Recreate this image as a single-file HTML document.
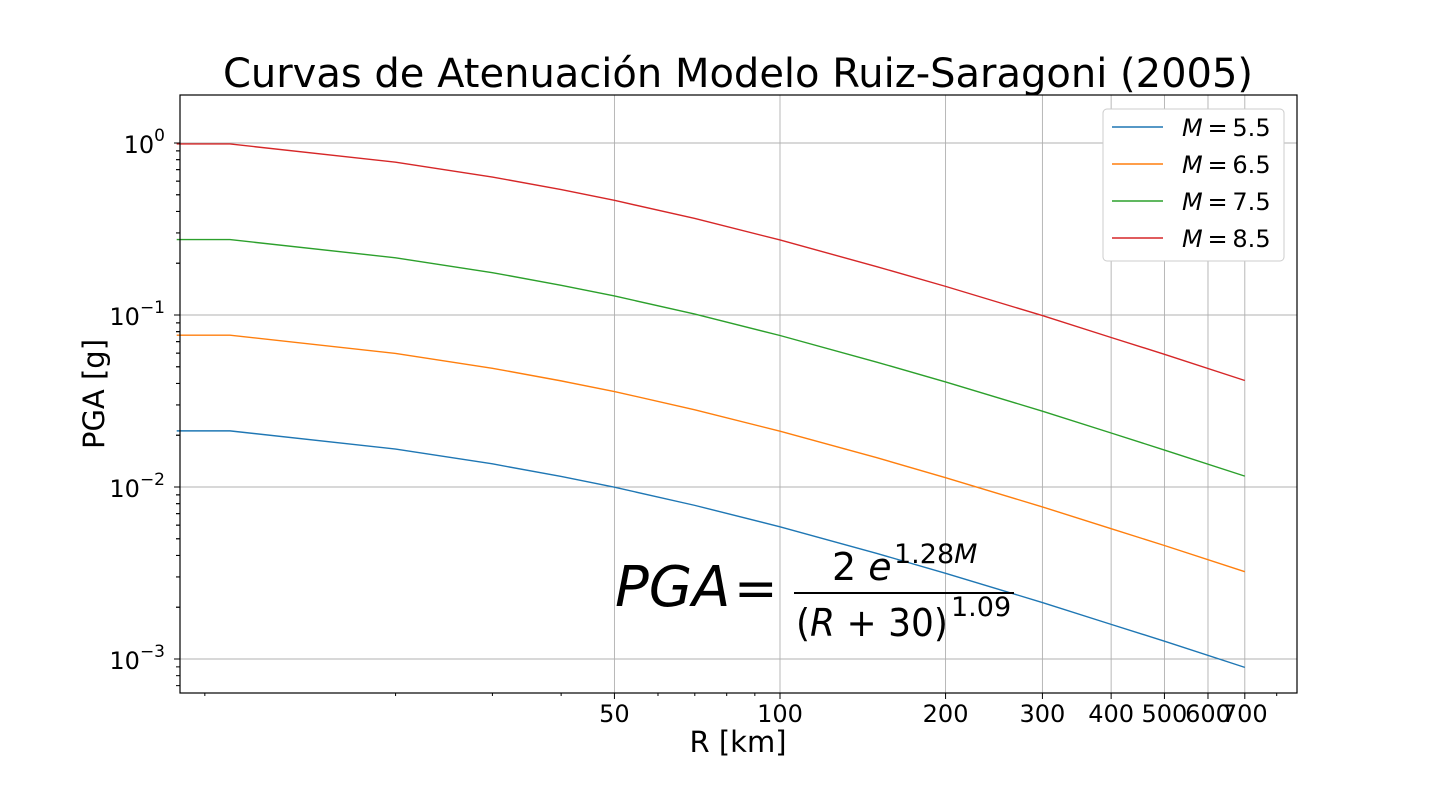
<!DOCTYPE html>
<html><head><meta charset="utf-8"><style>
body{margin:0;background:#fff;}
svg text{font-family:"DejaVu Sans","Liberation Sans",sans-serif;fill:#000;}
</style></head><body>
<svg id="chart" width="1440" height="792" xmlns="http://www.w3.org/2000/svg">
<text x="738" y="87" font-size="40" text-anchor="middle">Curvas de Atenuación Modelo Ruiz-Saragoni (2005)</text>
<g id="grid"></g>
<g id="series"></g>
<rect x="180" y="95" width="1117" height="598" fill="none" stroke="#000" stroke-width="1.2"/>
<g id="axes"></g>
<text x="738" y="752" font-size="29" text-anchor="middle">R [km]</text>
<text transform="translate(104,394) rotate(-90)" font-size="29" text-anchor="middle">PGA [g]</text>
<g>
<text x="615" y="606" font-size="56" font-style="italic">PGA</text>
<text x="734" y="606" font-size="52">=</text>
<text x="832" y="580" font-size="38">2 <tspan font-style="italic">e</tspan></text>
<text x="894" y="563" font-size="27">1.28<tspan font-style="italic">M</tspan></text>
<line x1="794" y1="593" x2="1014" y2="593" stroke="#000" stroke-width="2"/>
<text x="796" y="636" font-size="38" textLength="152" lengthAdjust="spacingAndGlyphs">(<tspan font-style="italic">R</tspan> + 30)</text>
<text x="951" y="616" font-size="27">1.09</text>
</g>
<g id="legend">
<rect x="1103" y="109" width="181" height="152" rx="4" fill="#fff" stroke="#ccc"/>
</g>
</svg>
<script>
const distances=[8,10,20,30,40,50,70,100,150,200,300,400,500,700];
const m55=[0.0212,0.0212,0.01662,0.01363,0.01151,0.00997,0.00782,0.00587,0.00411,0.00315,0.00213,0.00159,0.00127,0.000894];
const m65=[0.0763,0.0763,0.0598,0.0490,0.0414,0.0359,0.0281,0.0211,0.0148,0.01133,0.00766,0.00572,0.00457,0.00322];
const m75=[0.2744,0.2744,0.2151,0.1763,0.1489,0.1290,0.1012,0.0760,0.0532,0.0408,0.0276,0.0206,0.0164,0.01157];
const m85=[0.987,0.987,0.774,0.634,0.536,0.464,0.364,0.273,0.191,0.1467,0.0992,0.0740,0.0591,0.0416];
const seriesLabels=["M = 5.5","M = 6.5","M = 7.5","M = 8.5"];
const xTickLabels=[50,100,200,300,400,500,600,700];
const xMinor=[9,20,30,40,60,70,80,90,800];
const yTickExps=[0,-1,-2,-3];
const NS="http://www.w3.org/2000/svg";
const xs=v=>780+550*(Math.log10(v)-2);
const ys=v=>143-172*Math.log10(v);
function mk(t,a,p){const e=document.createElementNS(NS,t);for(const k in a)e.setAttribute(k,a[k]);p.appendChild(e);return e;}
const grid=document.getElementById('grid'),axes=document.getElementById('axes'),ser=document.getElementById('series'),leg=document.getElementById('legend');
xTickLabels.forEach(v=>{const x=xs(v);
 const g=mk('line',{x1:x,x2:x,y1:95,y2:693,stroke:'#b0b0b0','stroke-width':0.9},grid);
 
 
 mk('line',{x1:x,x2:x,y1:693,y2:699,stroke:'#000'},axes);
 const t=mk('text',{x:x,y:722,'font-size':24,'text-anchor':'middle'},axes);t.textContent=v;
 
 });
xMinor.forEach(v=>{const x=xs(v);mk('line',{x1:x,x2:x,y1:693,y2:696,stroke:'#000'},axes);});
yTickExps.forEach(e=>{const y=ys(Math.pow(10,e));
 const g=mk('line',{x1:180,x2:1297,y1:y,y2:y,stroke:'#b0b0b0','stroke-width':0.9},grid);
 
 
 mk('line',{x1:174,x2:180,y1:y,y2:y,stroke:'#000'},axes);
 const t=mk('text',{x:165,y:y+10,'font-size':24,'text-anchor':'end'},axes);
 t.innerHTML='10<tspan dy="-12" font-size="17">'+(e<0?'\u2212'+(-e):e)+'</tspan>';
 
 
 for(let k=2;k<=9;k++){const v=Math.pow(10,e)*k;const yy=ys(v);if(yy>95&&yy<693)mk('line',{x1:176,x2:180,y1:yy,y2:yy,stroke:'#000'},axes);}
 for(let k=2;k<=9;k++){const v=Math.pow(10,e-1)*k;const yy=ys(v);if(yy>95&&yy<693)mk('line',{x1:176,x2:180,y1:yy,y2:yy,stroke:'#000'},axes);}
});
const data=[m55,m65,m75,m85],cols=['#1f77b4','#ff7f0e','#2ca02c','#d62728'];
data.forEach((arr,i)=>{
 const p=mk('polyline',{points:arr.map((v,j)=>xs(distances[j])+','+ys(v)).join(' '),fill:'none',stroke:cols[i],'stroke-width':1.4},ser);
 
 
 const y=127+37*i;
 mk('line',{x1:1112,x2:1163,y1:y,y2:y,stroke:cols[i],'stroke-width':1.4},leg);
 const t=mk('text',{x:1182,y:y+9,'font-size':24},leg);
 const parts=seriesLabels[i].split(' = ');
 t.innerHTML='<tspan font-style="italic">'+parts[0]+'</tspan>\u2009=\u2009'+parts[1];
 
 
});
</script>
</body></html>
